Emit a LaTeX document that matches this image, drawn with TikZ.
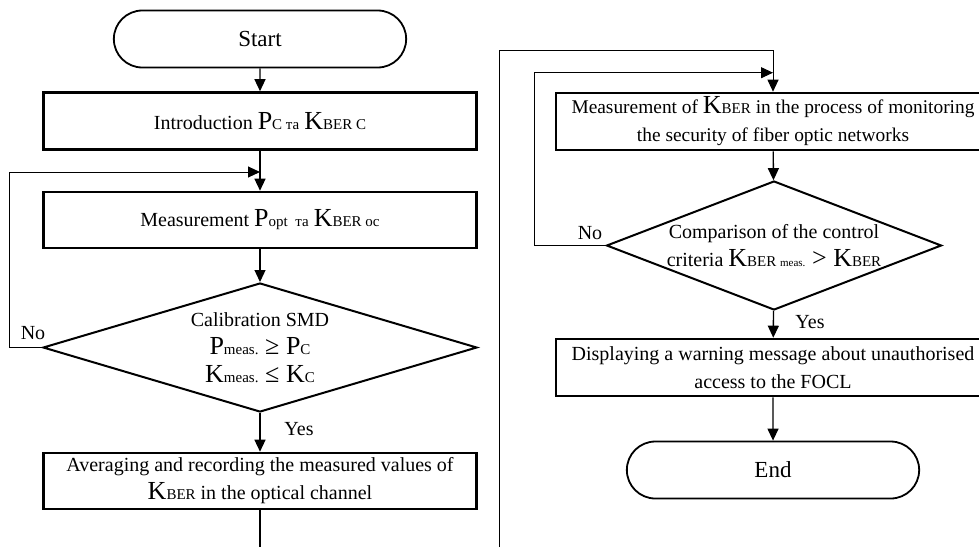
\documentclass[tikz,border=0pt]{standalone}
\usepackage{fontspec}
\setmainfont{Liberation Serif}
\usetikzlibrary{shapes.geometric,shapes.misc,arrows.meta}

\newcommand{\bigtxt}[1]{{\fontsize{26}{26}\selectfont #1}}
\newcommand{\smalltxt}[1]{{\fontsize{15}{15}\selectfont #1}}
\newcommand{\tinytxt}[1]{{\fontsize{11}{11}\selectfont #1}}

\begin{document}
\begin{tikzpicture}[x=1pt,y=-1pt,
  every node/.style={font=\fontsize{20}{28}\selectfont},
  terminal/.style={draw,line width=1.8pt,rounded rectangle,
    minimum width=299pt,minimum height=57pt,font=\fontsize{23}{28}\selectfont},
  process/.style={draw,line width=2.6pt,minimum width=433pt,
    minimum height=57pt,inner sep=0pt,align=center},
  decision/.style={draw,line width=2pt,diamond,inner sep=0pt,align=center},
  flow/.style={line width=1.3pt,-{Triangle[length=12pt,width=11pt]}},
  back/.style={line width=1pt,-{Triangle[length=12pt,width=11pt]}}]
  \useasboundingbox (0,0) rectangle (979,547);
  % left column
  \node[terminal] (start) at (260,39) {Start};
  \node[process] (intro) at (260,121)
    {Introduction \bigtxt{P}\smalltxt{C та} \bigtxt{K}\smalltxt{BER C}};
  \node[process,minimum height=56pt] (meas) at (260,220)
    {Measurement \bigtxt{P}\smalltxt{opt\ \ та} \bigtxt{K}\smalltxt{BER oc}};
  \node[decision,shape aspect=3.36,minimum width=434pt,minimum height=129pt]
    (calib) at (260,347.5)
    {\raisebox{-5pt}{}Calibration SMD\\
     \bigtxt{P}\smalltxt{meas.} \bigtxt{≥ P}\smalltxt{C}\\
     \bigtxt{K}\smalltxt{meas.} \bigtxt{≤ K}\smalltxt{C}};
  \node[process,minimum height=56pt] (avg) at (260,481)
    {Averaging and recording the measured values of\\
     \bigtxt{K}\smalltxt{BER} in the optical channel};
  \coordinate (loopL) at (260,172);
  \coordinate (endL) at (260,547);
  % right column
  \node[process,minimum width=434pt,font=\fontsize{19.4}{28}\selectfont]
    (mon) at (773,121.5)
    {Measurement of \bigtxt{K}\smalltxt{BER} in the process of monitoring\\
     the security of fiber optic networks};
  \node[decision,shape aspect=2.6,minimum width=335pt,minimum height=129pt]
    (cmp) at (774,245.5)
    {Comparison of the control\\
     criteria \bigtxt{K}\smalltxt{BER \tinytxt{meas.}} \bigtxt{> K}\smalltxt{BER}};
  \node[process,minimum width=434pt] (warn) at (773,367.5)
    {Displaying a warning message about unauthorised\\
     access to the FOCL};
  \node[terminal] (end) at (773,470) {End};
  \coordinate (loopR) at (773,72.7);
  \coordinate (topR) at (773,50.7);
  \coordinate (endR) at (499,547);

  \draw[flow] (start) -- (intro);
  \draw[flow] (intro) -- (meas);
  \draw[flow] (meas) -- (calib);
  \draw[flow] (calib) -- (avg);
  \draw[line width=1.3pt] (avg) -- (endL);
  \draw[back] (calib.west) -- ++(-33,0) |- (loopL);
  \node (noL) at (33,333) {No};
  \node (yesL) at (299,429) {Yes};

  \draw[back] (endR) |- (topR) -- (mon.north);
  \draw[flow] (mon) -- (cmp);
  \draw[back] (cmp.west) -- ++(-71,0) |- (loopR);
  \draw[flow] (cmp) -- (warn);
  \draw[flow] (warn) -- (end);
  \node (noR) at (590,233) {No};
  \node (yesR) at (810,322) {Yes};
\end{tikzpicture}
\end{document}
